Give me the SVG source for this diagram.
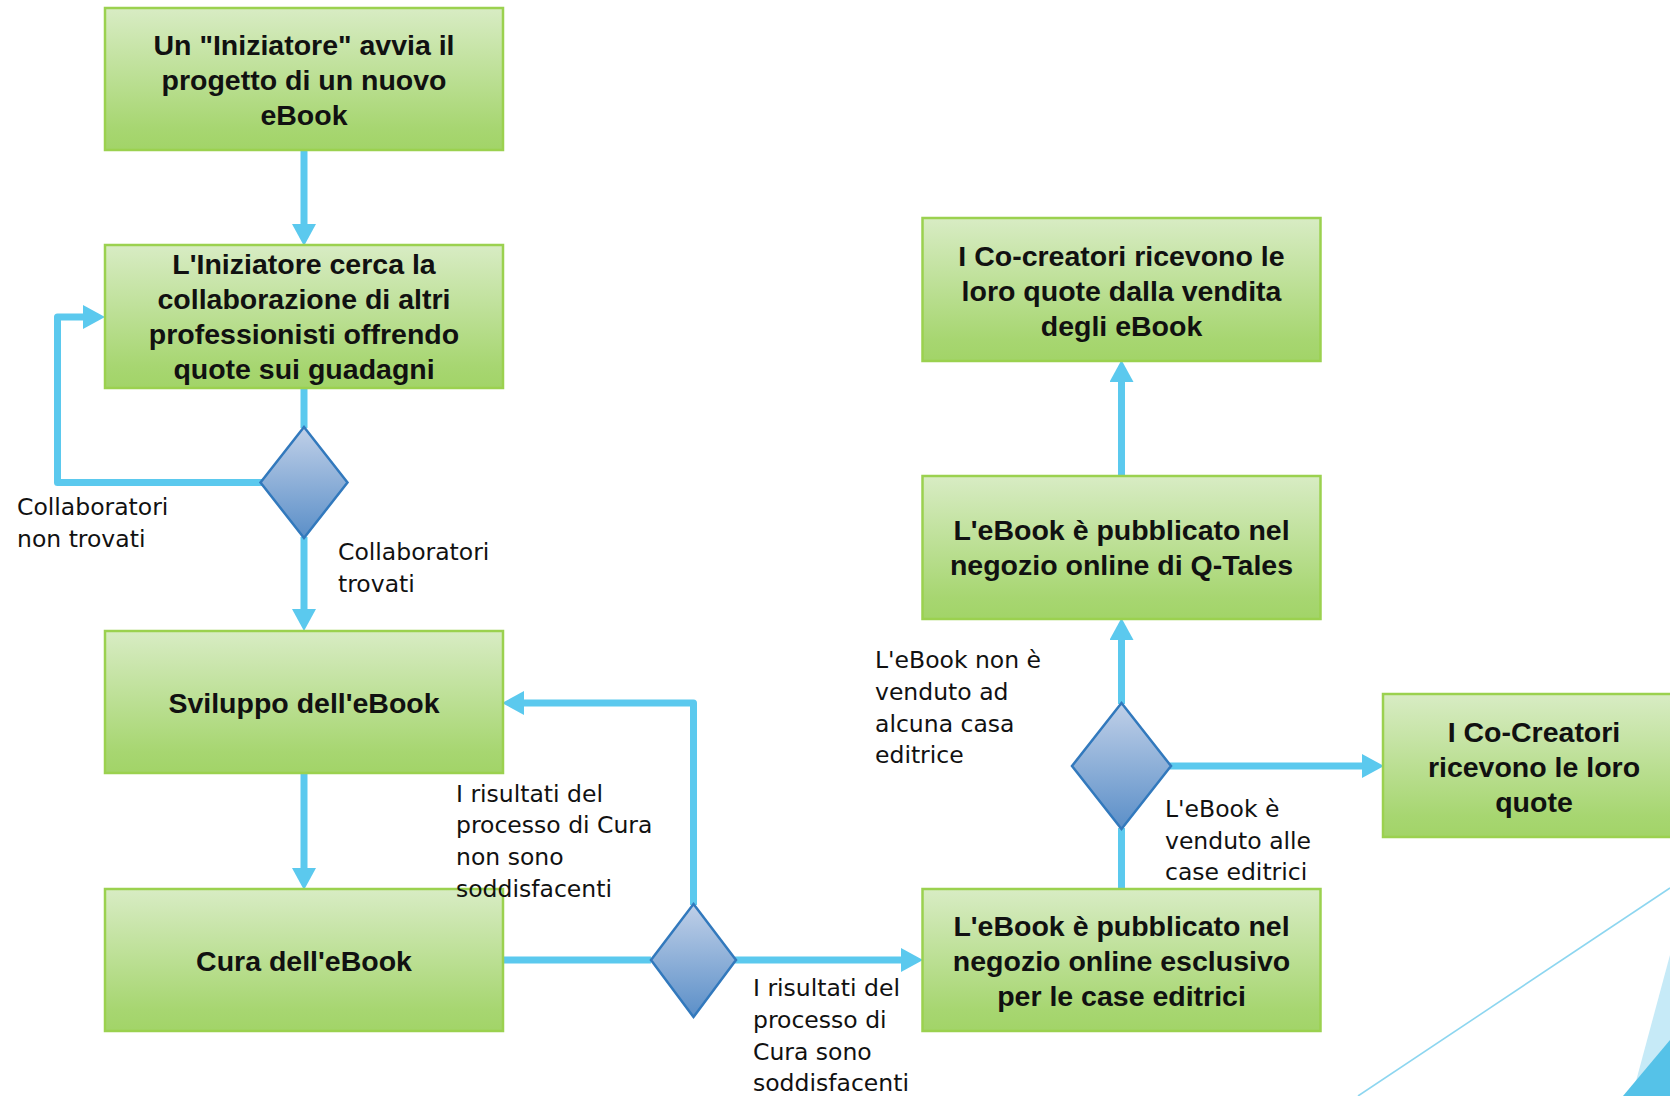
<svg xmlns="http://www.w3.org/2000/svg" width="1670" height="1096" viewBox="0 0 1670 1096">
<defs>
<linearGradient id="gBox" x1="0" y1="0" x2="0" y2="1">
<stop offset="0" stop-color="#d8ecc4"/>
<stop offset="0.85" stop-color="#a7d671"/>
<stop offset="1" stop-color="#a2d468"/>
</linearGradient>
<linearGradient id="gDia" x1="0" y1="0" x2="0" y2="1">
<stop offset="0" stop-color="#c0d0e8"/>
<stop offset="1" stop-color="#5b8fc8"/>
</linearGradient>
<marker id="ah" markerUnits="userSpaceOnUse" markerWidth="22" markerHeight="24" refX="0" refY="12" orient="auto" viewBox="0 0 22 24">
<path d="M0,0 L22,12 L0,24 z" fill="#5bc9ee"/>
</marker>
</defs>
<style>
.box{fill:url(#gBox);stroke:#9bd14f;stroke-width:2.5}
.dia{fill:url(#gDia);stroke:#3279bd;stroke-width:2.5;stroke-linejoin:miter}
.bt{font-family:"Liberation Sans",Arial,sans-serif;font-weight:bold;font-size:28.5px;fill:#111;text-anchor:middle}
.lb{font-family:"DejaVu Sans",Verdana,sans-serif;font-size:23.5px;fill:#111}
.cn{fill:none;stroke:#5bc9ee;stroke-width:7;stroke-linejoin:round;stroke-linecap:butt}
</style>
<rect width="1670" height="1096" fill="#ffffff"/>
<g id="decor">
<line x1="1358" y1="1096" x2="1670" y2="888" stroke="#8dd6f0" stroke-width="1.6"/>
<polygon points="1670,955 1632,1096 1670,1096" fill="#c6eaf7"/>
<polygon points="1623,1096 1670,1040 1670,1096" fill="#55c2e8"/>
</g>
<g id="connectors">
<path class="cn" d="M304,150 V224" marker-end="url(#ah)"/>
<path class="cn" d="M304,388 V428"/>
<path class="cn" d="M262,482.5 H57.5 V317 H83" marker-end="url(#ah)"/>
<path class="cn" d="M304,537 V609" marker-end="url(#ah)"/>
<path class="cn" d="M304,773 V868" marker-end="url(#ah)"/>
<path class="cn" d="M503,960 H651"/>
<path class="cn" d="M693.5,905 V703 H524" marker-end="url(#ah)"/>
<path class="cn" d="M735,960 H901" marker-end="url(#ah)"/>
<path class="cn" d="M1121.5,889 V828"/>
<path class="cn" d="M1121.5,704 V640" marker-end="url(#ah)"/>
<path class="cn" d="M1170,766 H1362" marker-end="url(#ah)"/>
<path class="cn" d="M1121.5,476 V382" marker-end="url(#ah)"/>
</g>
<g id="n1">
<rect class="box" x="105" y="8" width="398" height="142"/>
<text class="bt" x="304" y="55">Un "Iniziatore" avvia il</text>
<text class="bt" x="304" y="90">progetto di un nuovo</text>
<text class="bt" x="304" y="125">eBook</text>
</g>
<g id="n2">
<rect class="box" x="105" y="245" width="398" height="143"/>
<text class="bt" x="304" y="274">L'Iniziatore cerca la</text>
<text class="bt" x="304" y="309">collaborazione di altri</text>
<text class="bt" x="304" y="344">professionisti offrendo</text>
<text class="bt" x="304" y="379">quote sui guadagni</text>
</g>
<g id="d1">
<polygon class="dia" points="304,427 347.5,482.5 304,538 260.5,482.5"/>
</g>
<g id="n3">
<rect class="box" x="105" y="631" width="398" height="142"/>
<text class="bt" x="304" y="713">Sviluppo dell'eBook</text>
</g>
<g id="n4">
<rect class="box" x="105" y="889" width="398" height="142"/>
<text class="bt" x="304" y="971">Cura dell'eBook</text>
</g>
<g id="d2">
<polygon class="dia" points="693.5,904 736,960 693.5,1017 651,960"/>
</g>
<g id="n5">
<rect class="box" x="922.5" y="889" width="398" height="142"/>
<text class="bt" x="1121.5" y="936">L'eBook è pubblicato nel</text>
<text class="bt" x="1121.5" y="971">negozio online esclusivo</text>
<text class="bt" x="1121.5" y="1006">per le case editrici</text>
</g>
<g id="d3">
<polygon class="dia" points="1121.5,703 1171,766 1121.5,829 1072,766"/>
</g>
<g id="n6">
<rect class="box" x="922.5" y="476" width="398" height="143"/>
<text class="bt" x="1121.5" y="540">L'eBook è pubblicato nel</text>
<text class="bt" x="1121.5" y="575">negozio online di Q-Tales</text>
</g>
<g id="n7">
<rect class="box" x="922.5" y="218" width="398" height="143"/>
<text class="bt" x="1121.5" y="266">I Co-creatori ricevono le</text>
<text class="bt" x="1121.5" y="301">loro quote dalla vendita</text>
<text class="bt" x="1121.5" y="336">degli eBook</text>
</g>
<g id="n8">
<rect class="box" x="1383" y="694" width="301" height="143"/>
<text class="bt" x="1534" y="742">I Co-Creatori</text>
<text class="bt" x="1534" y="777">ricevono le loro</text>
<text class="bt" x="1534" y="812">quote</text>
</g>
<g id="labels">
<text class="lb" x="17" y="515">Collaboratori</text>
<text class="lb" x="17" y="547">non trovati</text>
<text class="lb" x="338" y="560">Collaboratori</text>
<text class="lb" x="338" y="592">trovati</text>
<text class="lb" x="456" y="802">I risultati del</text>
<text class="lb" x="456" y="833">processo di Cura</text>
<text class="lb" x="456" y="865">non sono</text>
<text class="lb" x="456" y="897">soddisfacenti</text>
<text class="lb" x="753" y="996">I risultati del</text>
<text class="lb" x="753" y="1028">processo di</text>
<text class="lb" x="753" y="1060">Cura sono</text>
<text class="lb" x="753" y="1091">soddisfacenti</text>
<text class="lb" x="875" y="668">L'eBook non è</text>
<text class="lb" x="875" y="700">venduto ad</text>
<text class="lb" x="875" y="732">alcuna casa</text>
<text class="lb" x="875" y="763">editrice</text>
<text class="lb" x="1165" y="817">L'eBook è</text>
<text class="lb" x="1165" y="849">venduto alle</text>
<text class="lb" x="1165" y="880">case editrici</text>
</g>
</svg>
